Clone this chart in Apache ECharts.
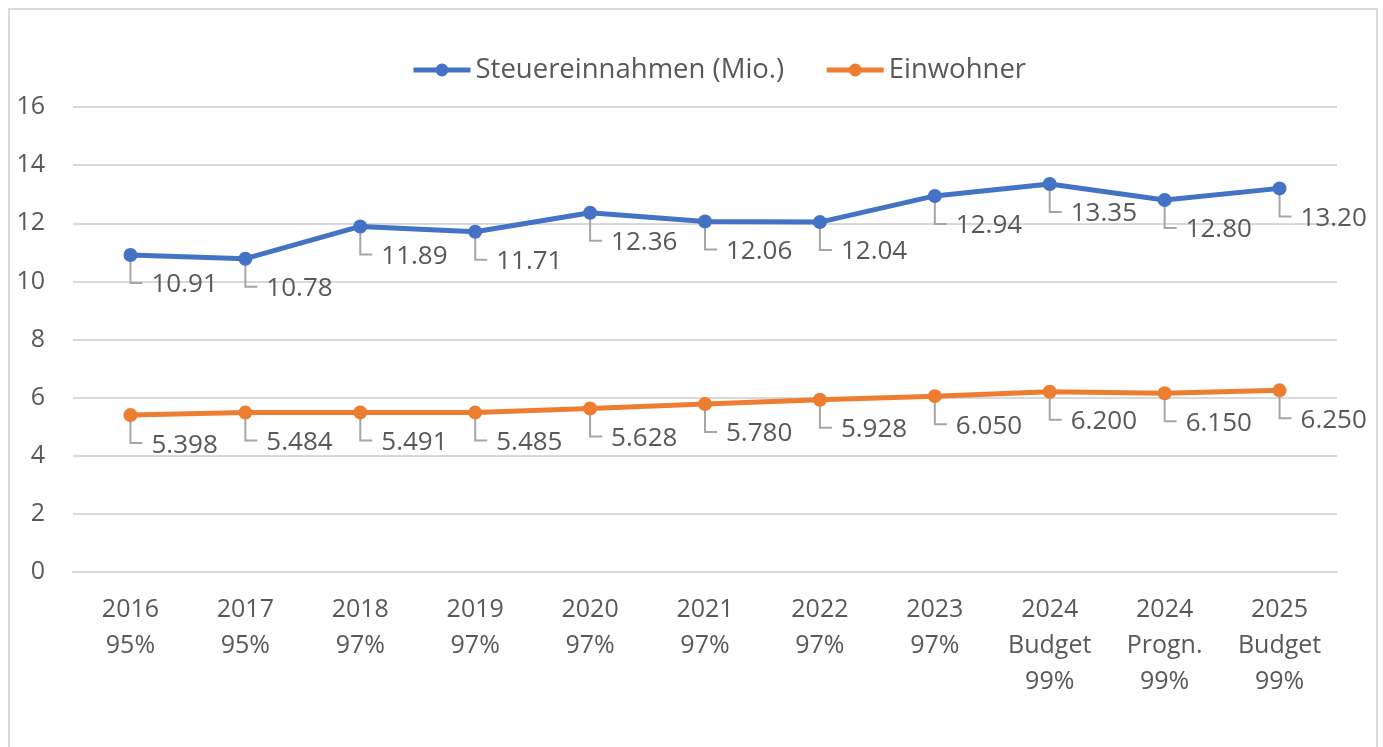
<!DOCTYPE html>
<html>
<head>
<meta charset="utf-8">
<script src="https://cdn.jsdelivr.net/npm/echarts@6/dist/echarts.min.js"></script>
<style>
  html, body { margin: 0; padding: 0; background: #fff; }
  #chart { width: 1383px; height: 747px; }
</style>
</head>
<body>
<div id="chart"></div>
<script>
// data
const categories = [
  '2016\n95%', '2017\n95%', '2018\n97%', '2019\n97%', '2020\n97%', '2021\n97%',
  '2022\n97%', '2023\n97%', '2024\nBudget\n99%', '2024\nProgn.\n99%', '2025\nBudget\n99%'
];
const steuern = [10.91, 10.78, 11.89, 11.71, 12.36, 12.06, 12.04, 12.94, 13.35, 12.80, 13.20];
const einwohner = [5.398, 5.484, 5.491, 5.485, 5.628, 5.780, 5.928, 6.050, 6.200, 6.150, 6.250];
const steuernLabels = ['10.91', '10.78', '11.89', '11.71', '12.36', '12.06', '12.04', '12.94', '13.35', '12.80', '13.20'];
const einwohnerLabels = ['5.398', '5.484', '5.491', '5.485', '5.628', '5.780', '5.928', '6.050', '6.200', '6.150', '6.250'];

const FONT = '"Open Sans", sans-serif';
const TEXT = '#595959';

// labels with L-shaped leader line, positioned through the axes
function labelSeries(values, texts) {
  return {
    type: 'custom',
    z: 1,
    silent: true,
    data: values.map((v, i) => [i, v, texts[i]]),
    encode: { x: 0, y: 1 },
    renderItem: function (params, api) {
      const p = api.coord([api.value(0), api.value(1)]);
      const txt = texts[params.dataIndex];
      return {
        type: 'group',
        children: [
          {
            type: 'polyline',
            shape: { points: [[p[0], p[1]], [p[0], p[1] + 28], [p[0] + 12, p[1] + 28]] },
            style: { stroke: '#A6A6A6', lineWidth: 2, fill: null }
          },
          {
            type: 'text',
            style: {
              x: p[0] + 21, y: p[1] + 30,
              text: txt,
              fill: TEXT,
              font: '26px ' + FONT,
              align: 'left',
              verticalAlign: 'middle'
            }
          }
        ]
      };
    }
  };
}

const chart = echarts.init(document.getElementById('chart'));
chart.setOption({
  animation: false,
  backgroundColor: '#fff',
  graphic: [{
    type: 'rect',
    shape: { x: 9, y: 9, width: 1368, height: 760 },
    style: { fill: null, stroke: '#D9D9D9', lineWidth: 2 },
    silent: true
  }],
  legend: {
    data: ['Steuereinnahmen (Mio.)', 'Einwohner'],
    left: 406,
    top: 51,
    itemWidth: 57,
    itemHeight: 16,
    itemGap: 40,
    lineStyle: { width: 5 },
    textStyle: { color: TEXT, fontSize: 27.5, fontFamily: FONT }
  },
  grid: { left: 73, right: 46, top: 107, bottom: 175 },
  xAxis: {
    type: 'category',
    data: categories,
    boundaryGap: true,
    axisLine: { lineStyle: { color: '#D9D9D9', width: 2 } },
    axisTick: { show: false },
    axisLabel: {
      color: TEXT, fontSize: 25, fontFamily: FONT,
      lineHeight: 36, margin: 20, interval: 0
    }
  },
  yAxis: {
    type: 'value',
    min: 0, max: 16, interval: 2,
    axisLine: { show: false },
    axisTick: { show: false },
    splitLine: { lineStyle: { color: '#D9D9D9', width: 2 } },
    axisLabel: { color: TEXT, fontSize: 25, fontFamily: FONT, margin: 28 }
  },
  series: [
    labelSeries(steuern, steuernLabels),
    labelSeries(einwohner, einwohnerLabels),
    {
      name: 'Steuereinnahmen (Mio.)',
      type: 'line',
      z: 3,
      data: steuern,
      symbol: 'circle',
      symbolSize: 14,
      lineStyle: { color: '#4472C4', width: 5 },
      itemStyle: { color: '#4472C4' }
    },
    {
      name: 'Einwohner',
      type: 'line',
      z: 3,
      data: einwohner,
      symbol: 'circle',
      symbolSize: 14,
      lineStyle: { color: '#ED7D31', width: 5 },
      itemStyle: { color: '#ED7D31' }
    }
  ]
});
</script>
</body>
</html>
